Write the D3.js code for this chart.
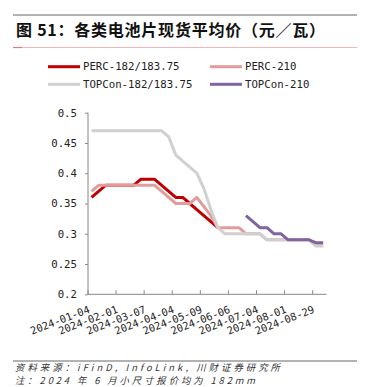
<!DOCTYPE html>
<html>
<head>
<meta charset="utf-8">
<script src="https://cdn.jsdelivr.net/npm/d3@7"></script>
<style>
    body { margin: 0; background: #fff; }
    svg { display: block; }
</style>
</head>
<body>
<script>
// weekly dates (category axis, holiday weeks missing)
const dates = [
    "2024-01-04", "2024-01-11", "2024-01-18", "2024-01-25", "2024-02-01", "2024-02-08",
    "2024-02-22", "2024-02-29", "2024-03-07", "2024-03-14", "2024-03-21", "2024-03-28",
    "2024-04-04", "2024-04-11", "2024-04-18", "2024-04-25", "2024-05-09", "2024-05-16",
    "2024-05-23", "2024-05-30", "2024-06-06", "2024-06-13", "2024-06-20", "2024-06-27",
    "2024-07-04", "2024-07-11", "2024-07-18", "2024-07-25", "2024-08-01", "2024-08-08",
    "2024-08-15", "2024-08-22", "2024-08-29", "2024-09-05",
];
const perc182 = [
    0.36, 0.37, 0.38, 0.38, 0.38, 0.38, 0.38, 0.39, 0.39, 0.39, 0.38, 0.37,
    0.36, 0.36, 0.35, 0.34, 0.33, 0.32, 0.31, null, null, null, null, null,
    null, null, null, null, null, null, null, null, null, null,
];
const perc210 = [
    0.37, 0.38, 0.38, 0.38, 0.38, 0.38, 0.38, 0.38, 0.38, 0.38, 0.37, 0.36,
    0.35, 0.35, 0.35, 0.36, 0.345, 0.33, 0.31, 0.31, 0.31, 0.31, 0.30, 0.30,
    0.30, 0.29, 0.29, 0.29, 0.29, 0.29, 0.29, 0.29, 0.28, 0.28,
];
const topcon182 = [
    0.47, 0.47, 0.47, 0.47, 0.47, 0.47, 0.47, 0.47, 0.47, 0.47, 0.47, 0.46,
    0.43, 0.42, 0.41, 0.40, 0.375, 0.34, 0.31, 0.30, 0.30, 0.30, 0.30, 0.30,
    0.30, 0.29, 0.29, 0.29, 0.29, 0.29, 0.29, 0.29, 0.28, 0.28,
];
const topcon210 = [
    null, null, null, null, null, null, null, null, null, null, null, null,
    null, null, null, null, null, null, null, null, null, null, 0.33, 0.32,
    0.31, 0.31, 0.30, 0.30, 0.29, 0.29, 0.29, 0.29, 0.285, 0.285,
];
const seriesNames = ["PERC-182/183.75", "PERC-210", "TOPCon-182/183.75", "TOPCon-210"];
const seriesColors = ["#c00000", "#e39c9c", "#d0d0d0", "#8064a2"];
const yTicks = [0.2, 0.25, 0.3, 0.35, 0.4, 0.45, 0.5];

const title = "图 51：各类电池片现货平均价（元／瓦）";
const source = "资料来源：iFinD, InfoLink, 川财证券研究所";
const note = "注：2024 年 6 月小尺寸报价均为 182mm";

const width = 367, height = 387;
const mono = "'DejaVu Sans Mono', monospace";
const cjk = "'Noto Sans CJK SC', sans-serif";

const svg = d3.select("body").append("svg").attr("width", width).attr("height", height);

// header
svg.append("line").attr("x1", 13).attr("x2", 357).attr("y1", 15).attr("y2", 15)
    .attr("stroke", "#666").attr("stroke-width", 1);
svg.append("text").text(title)
    .attr("x", 16).attr("y", 36)
    .attr("textLength", 309).attr("lengthAdjust", "spacing")
    .attr("font-family", cjk).attr("font-size", 16).attr("font-weight", "bold")
    .attr("fill", "#111");
svg.append("line").attr("x1", 13).attr("x2", 357).attr("y1", 47.5).attr("y2", 47.5)
    .attr("stroke", "#f2b8b8").attr("stroke-width", 1);
svg.append("line").attr("x1", 13).attr("x2", 22).attr("y1", 47.5).attr("y2", 47.5)
    .attr("stroke", "#e07a7a").attr("stroke-width", 1.2);

// legend
{
    const legend = svg.append("g").attr("class", "legend");
    const pos = [[48, 66.7], [210, 66.7], [48, 84.3], [210, 84.3]];
    seriesNames.forEach((name, i) => {
        const [lx, ly] = pos[i];
        legend.append("line")
            .attr("x1", lx).attr("x2", lx + 32).attr("y1", ly).attr("y2", ly)
            .attr("stroke", seriesColors[i]).attr("stroke-width", 3);
        legend.append("text").text(name)
            .attr("x", lx + 35).attr("y", ly)
            .attr("dy", "0.35em")
            .attr("font-family", mono).attr("font-size", 10.7)
            .attr("fill", "#222");
    });
}

// scales
const x = d3.scaleBand().domain(dates).range([88, 326.7]).padding(0);
const y = d3.scaleLinear().domain([0.2, 0.5]).range([294.3, 112.7]);
const cx = (d) => x(d) + x.bandwidth() / 2;

// y axis
{
    const yAxis = svg.append("g").attr("transform", "translate(88,0)")
        .call(d3.axisLeft(y).tickValues(yTicks).tickSize(3).tickPadding(8)
            .tickFormat((d) => String(+d.toFixed(2))));
    yAxis.select(".domain").attr("stroke", "#888").attr("d", `M0,${y(0.5)}V${y(0.2)}`);
    yAxis.selectAll(".tick line").attr("stroke", "#888");
    yAxis.selectAll("text").attr("font-family", mono).attr("font-size", 10.7).attr("fill", "#222");
}

// x axis
{
    const shown = dates.filter((_, i) => i % 4 === 0);
    const xAxis = svg.append("g").attr("transform", `translate(0,${y(0.2)})`);
    xAxis.append("line").attr("x1", 88).attr("x2", 326.7).attr("stroke", "#888");
    xAxis.selectAll("line.tick").data(shown).enter().append("line")
        .attr("class", "tick")
        .attr("x1", (d) => x(d)).attr("x2", (d) => x(d))
        .attr("y1", 0).attr("y2", -4)
        .attr("stroke", "#888");
    xAxis.selectAll("text").data(shown).enter().append("text")
        .text((d) => d)
        .attr("text-anchor", "end")
        .attr("transform", (d) => `translate(${cx(d) - 1},18) rotate(-21)`)
        .attr("font-family", mono).attr("font-size", 10.4)
        .attr("fill", "#222");
}

// lines
{
    const allSeries = [perc182, perc210, topcon182, topcon210];
    const line = d3.line()
        .defined((d) => d[1] !== null)
        .x((d) => cx(d[0]))
        .y((d) => y(d[1]));
    allSeries.forEach((vals, i) => {
        svg.append("path")
            .datum(dates.map((d, j) => [d, vals[j]]))
            .attr("d", line)
            .attr("fill", "none")
            .attr("stroke", seriesColors[i])
            .attr("stroke-width", 3)
            .attr("stroke-linejoin", "round");
    });
}

// footer
svg.append("line").attr("x1", 13).attr("x2", 357).attr("y1", 361).attr("y2", 361)
    .attr("stroke", "#666").attr("stroke-width", 1);
svg.append("text").text(source)
    .attr("x", 15).attr("y", 370.5)
    .attr("textLength", 265).attr("lengthAdjust", "spacing")
    .attr("font-family", cjk).attr("font-size", 9.4).attr("font-style", "italic")
    .attr("fill", "#333");
svg.append("text").text(note)
    .attr("x", 15).attr("y", 384)
    .attr("textLength", 240).attr("lengthAdjust", "spacing")
    .attr("font-family", cjk).attr("font-size", 9.4).attr("font-style", "italic")
    .attr("fill", "#333");
</script>
</body>
</html>
